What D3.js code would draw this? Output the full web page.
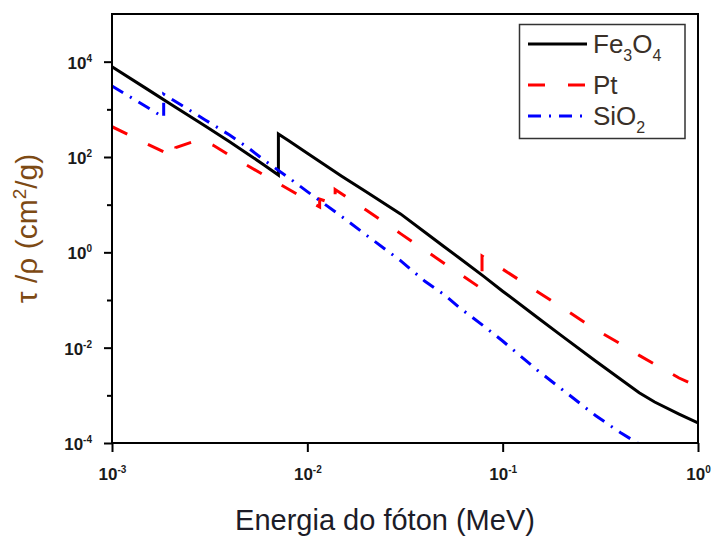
<!DOCTYPE html>
<html>
<head>
  <meta charset="utf-8">
  <title>tau/rho</title>
  <script src="https://cdnjs.cloudflare.com/ajax/libs/d3/7.8.5/d3.min.js"></script>
  <style>
    body { margin: 0; background: #fff; }
    text { font-family: "Liberation Sans", Arial, sans-serif; }
  </style>
</head>
<body>
<script>
var width = 714, height = 536;
var margin = {top: 14, right: 16, bottom: 93, left: 112};

// energia (MeV) y tau/rho (cm2/g)
var feE = [0.001, 0.0015, 0.002, 0.003, 0.004, 0.005, 0.006, 0.00711, 0.00711, 0.008, 0.01,
           0.015, 0.02, 0.03, 0.04, 0.05, 0.06, 0.08, 0.1, 0.15, 0.2, 0.3, 0.4, 0.5, 0.6, 0.8, 1.0];
var feV = [7830, 2720, 1280, 445, 209, 113, 68, 41.9, 303, 221, 120,
           39.5, 18.6, 6.4, 2.64, 1.33, 0.76, 0.313, 0.153, 0.0436, 0.0179, 0.00518, 0.0022, 0.00113, 7.24e-4, 4.05e-4, 2.63e-4];

var ptE = [0.001, 0.0015, 0.002, 0.002122, 0.002122, 0.0028, 0.0033, 0.004, 0.006, 0.01,
           0.01156, 0.01156, 0.01327, 0.01327, 0.01388, 0.01388, 0.02, 0.03, 0.04, 0.06,
           0.0784, 0.0784, 0.1, 0.15, 0.2, 0.3, 0.4, 0.5, 0.6, 0.8, 1.0];
var ptV = [432, 191, 110, 97.5, 158, 233, 176, 108, 41.9, 12.5,
           8.93, 13.1, 10.8, 16.7, 14.8, 20.8, 7.69, 2.47, 1.11, 0.358,
           0.170, 0.838, 0.443, 0.151, 0.0706, 0.0238, 0.0121, 0.00689, 0.0045, 0.00231, 0.00152];

var siE = [0.001, 0.0015, 0.001839, 0.001839, 0.002, 0.003, 0.004, 0.005, 0.006, 0.008, 0.01,
           0.015, 0.02, 0.03, 0.04, 0.05, 0.06, 0.08, 0.1, 0.15, 0.2, 0.3, 0.4, 0.5];
var siV = [3100, 1130, 680, 2070, 1680, 600, 289, 154, 86.4, 37.1, 18.8,
           5.64, 2.31, 0.67, 0.247, 0.131, 0.0695, 0.0284, 0.0138, 0.0034, 0.00136, 3.72e-4, 1.66e-4, 9.5e-5];

var xExp = [-3, -2, -1, 0];
var yExp = [-4, -2, 0, 2, 4];
var yMinorExp = [-3, -1, 1, 3];

var series = [
  {name: [["Fe", 0], ["3", 1], ["O", 0], ["4", 1]], e: feE, v: feV, color: "#000", dash: null},
  {name: [["Pt", 0]], e: ptE, v: ptV, color: "#ff0000", dash: "17,23"},
  {name: [["SiO", 0], ["2", 1]], e: siE, v: siV, color: "#0000ff", dash: "13,8,2,8"}
];

var svg = d3.select("body").append("svg").attr("width", width).attr("height", height);

var x = d3.scaleLog().domain([1e-3, 1]).range([margin.left, width - margin.right]);
var y = d3.scaleLog().domain([1e-4, 1e5]).range([height - margin.bottom, margin.top]);

svg.append("clipPath").attr("id", "clip")
   .append("rect")
   .attr("x", margin.left).attr("y", margin.top)
   .attr("width", width - margin.right - margin.left)
   .attr("height", height - margin.bottom - margin.top);

var line = d3.line()
   .x(function(d) { return x(d[0]); })
   .y(function(d) { return y(d[1]); });

series.forEach(function(s) {
  svg.append("path")
     .datum(d3.zip(s.e, s.v))
     .attr("clip-path", "url(#clip)")
     .attr("d", line)
     .attr("fill", "none")
     .attr("stroke", s.color)
     .attr("stroke-width", 3)
     .attr("stroke-dasharray", s.dash);
});

// ejes
var pow10 = function(e) { return Math.pow(10, e); };
var gy = svg.append("g").attr("transform", "translate(" + margin.left + ",0)")
   .call(d3.axisLeft(y).tickValues(yExp.map(pow10)).tickSize(8).tickSizeOuter(0).tickFormat(""));
svg.append("g").attr("transform", "translate(" + margin.left + ",0)")
   .call(d3.axisLeft(y).tickValues(yMinorExp.map(pow10)).tickSize(5).tickSizeOuter(0).tickFormat(""));
var gx = svg.append("g").attr("transform", "translate(0," + (height - margin.bottom) + ")")
   .call(d3.axisBottom(x).tickValues(xExp.map(pow10)).tickSize(9).tickSizeOuter(0).tickFormat(""));

svg.selectAll(".domain").remove();
svg.selectAll(".tick line").attr("stroke", "#000").attr("stroke-width", 2);

function powLabel(g, e) {
  var t = g.append("text").attr("fill", "#1a1a1a").attr("font-weight", "bold").attr("font-size", 17);
  t.append("tspan").text("10");
  t.append("tspan").attr("font-size", 10).attr("dy", -7).text(e);
  return t;
}

gy.selectAll(".tick").each(function(d, i) {
  powLabel(d3.select(this), yExp[i]).attr("text-anchor", "end").attr("x", -20).attr("y", 6.5);
});
gx.selectAll(".tick").each(function(d, i) {
  powLabel(d3.select(this), xExp[i]).attr("text-anchor", "middle").attr("x", 0).attr("y", 37);
});

svg.append("rect")
   .attr("x", margin.left).attr("y", margin.top)
   .attr("width", width - margin.right - margin.left)
   .attr("height", height - margin.bottom - margin.top)
   .attr("fill", "none").attr("stroke", "#000").attr("stroke-width", 2);

// titulos
svg.append("text")
   .attr("x", 385).attr("y", 530)
   .attr("text-anchor", "middle")
   .attr("font-size", 29).attr("fill", "#1c1c28")
   .text("Energia do fóton (MeV)");

var yl = svg.append("text")
   .attr("transform", "translate(37," + ((margin.top + height - margin.bottom) / 2) + ") rotate(-90)")
   .attr("text-anchor", "middle")
   .attr("font-size", 30).attr("fill", "#7d4a14");
yl.append("tspan").text("τ /ρ (cm");
yl.append("tspan").attr("font-size", 19).attr("dy", -11).text("2");
yl.append("tspan").attr("dy", 11).text("/g)");

// leyenda
var lg = svg.append("g");
lg.append("rect").attr("x", 519.5).attr("y", 24.5).attr("width", 165.5).attr("height", 114)
  .attr("fill", "#fff").attr("stroke", "#333").attr("stroke-width", 1.5);
var rowY = [44, 85, 116];
series.forEach(function(s, i) {
  lg.append("line").attr("x1", 528).attr("x2", 587).attr("y1", rowY[i]).attr("y2", rowY[i])
    .attr("stroke", s.color).attr("stroke-width", 3).attr("stroke-dasharray", s.dash);
  var t = lg.append("text").attr("x", 593).attr("y", rowY[i] + 8.5)
    .attr("font-size", 26).attr("fill", "#3a3028");
  var shift = 0;
  s.name.forEach(function(p) {
    var want = p[1] ? 8 : 0;
    t.append("tspan").attr("dy", want - shift).attr("font-size", p[1] ? 16 : 26).text(p[0]);
    shift = want;
  });
});
</script>
</body>
</html>
